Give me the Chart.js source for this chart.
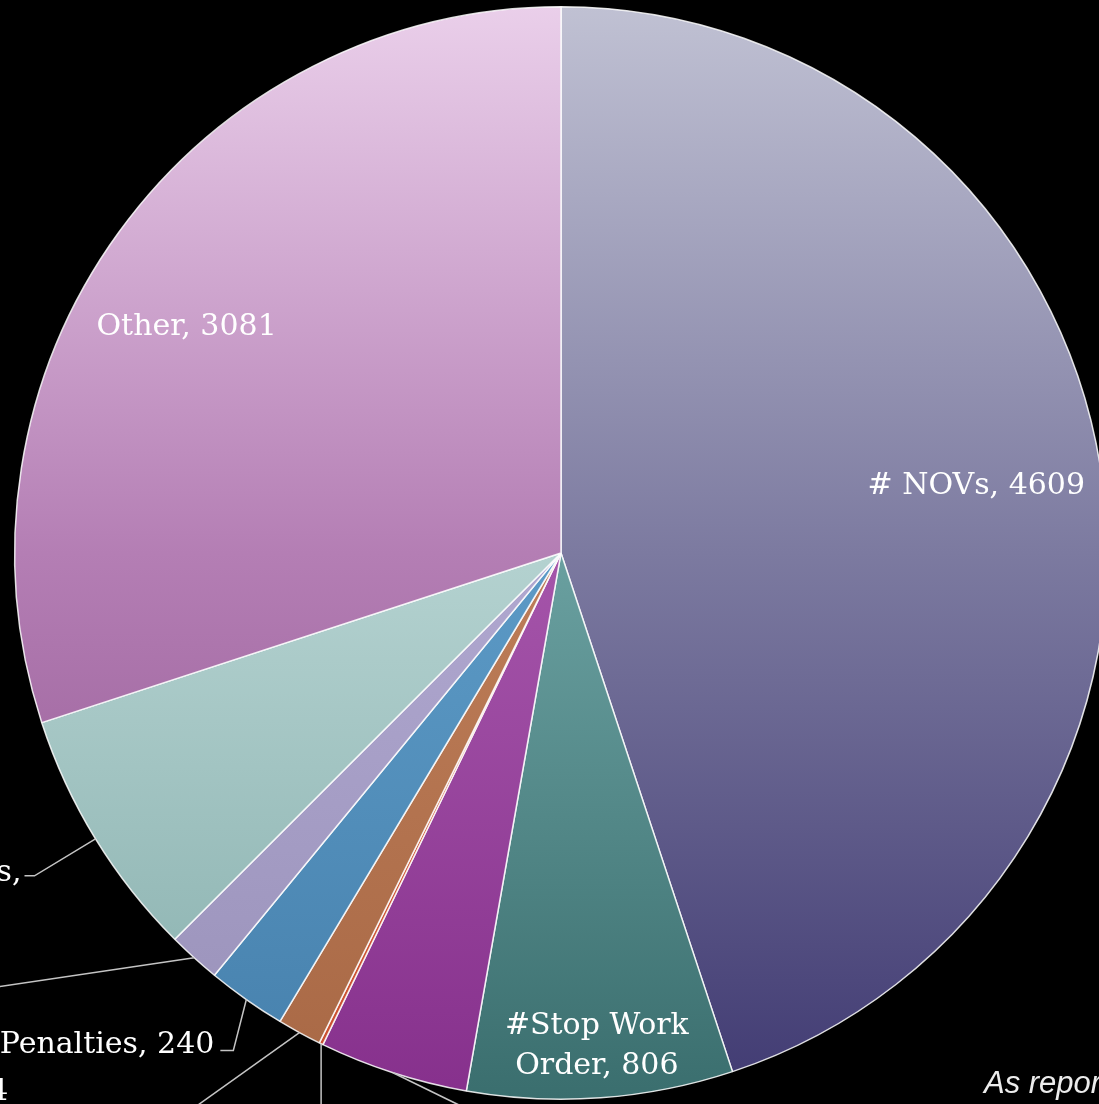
<!DOCTYPE html>
<html>
<head>
<meta charset="utf-8">
<script src="https://cdn.jsdelivr.net/npm/chart.js@4/dist/chart.umd.min.js"></script>
<style>
  html, body { margin: 0; padding: 0; background: #000; overflow: hidden; }
  #wrap { position: relative; width: 1099px; height: 1104px; overflow: hidden; background: #000; }
  #pie { position: absolute; left: 0; top: 0; }
</style>
</head>
<body>
<div id="wrap"><canvas id="pie" width="1200" height="1200"></canvas></div>
<script>
// Enforcement actions, counts per category (clockwise from 12 o'clock)
const categories = ['# NOVs', '#Stop Work Order', '# ECB Violations', '# Criminal Court',
                    '# Vacate Orders', 'Penalties', '# Summonses', '# Complaints', 'Other'];
const counts = [4609, 806, 452, 12, 134, 240, 160, 767, 3081];
const sourceNote = 'As reported by the Department of Buildings';

// Vertical gradient stops for each slice (top, middle, bottom of the pie)
const sliceStops = [
  ['#c0c1d3', '#7c7aa0', '#403a72'],
  ['#8fbcbc', '#6aa0a0', '#3a6e6e'],
  ['#c070c4', '#a555aa', '#86308c'],
  ['#e07050', '#d8603c', '#c85030'],
  ['#d09070', '#bd7d58', '#a86845'],
  ['#7ab0d8', '#5c9ac6', '#4680ac'],
  ['#c8c0e0', '#b0a8d0', '#9890b8'],
  ['#cfe4e4', '#b4d2d0', '#86aeac'],
  ['#eacfea', '#b47eb4', '#8a4e8a']
];

const LABEL_FONT = '30px "DejaVu Serif"';
const LINE_H = 40;

// Labels placed inside their slice: polar offset from the slice's mid angle
const insideLabels = [
  { index: 0, rFrac: 0.77, dAngle: 0 },
  { index: 1, rFrac: 0.905, dAngle: 0, wrapAfter: 'Work' },
  { index: 8, rFrac: 0.80, dAngle: -4.9 }
];

// Labels outside the pie: leader path and text box relative to the slice's outer mid point
const outsideLabels = [
  { index: 7, path: [[-61, 37], [-71, 37]], right: -74, base: 42, wrapAfter: ',' },
  { index: 6, path: [[-230, 34]], right: -236, base: 40 },
  { index: 5, path: [[-13, 51], [-26, 51]], right: -32, base: 53 },
  { index: 4, path: [[-150, 107]], right: -291, base: 67 },
  { index: 3, path: [[0, 120]], right: 60, base: 150 },
  { index: 2, path: [[90, 44]], right: 200, base: 70 }
];

function labelLines(i, wrapAfter) {
  const text = categories[i] + ', ' + counts[i];
  if (!wrapAfter) return [text];
  const cut = text.indexOf(wrapAfter) + wrapAfter.length;
  return [text.slice(0, cut).trim(), text.slice(cut).trim()];
}

function sliceFill(context) {
  const chart = context.chart;
  const area = chart.chartArea;
  const s = sliceStops[context.dataIndex];
  if (!area) return s[1];
  const g = chart.ctx.createLinearGradient(0, area.top, 0, area.bottom);
  g.addColorStop(0, s[0]);
  g.addColorStop(0.5, s[1]);
  g.addColorStop(1, s[2]);
  return g;
}

const sliceLabels = {
  id: 'sliceLabels',
  afterDatasetsDraw(chart) {
    const ctx = chart.ctx;
    const arcs = chart.getDatasetMeta(0).data;
    ctx.save();
    ctx.font = LABEL_FONT;
    ctx.fillStyle = '#ffffff';

    insideLabels.forEach(l => {
      const a = arcs[l.index];
      const mid = (a.startAngle + a.endAngle) / 2 + l.dAngle * Math.PI / 180;
      const r = a.outerRadius * l.rFrac;
      const x = a.x + Math.cos(mid) * r;
      const y = a.y + Math.sin(mid) * r;
      const lines = labelLines(l.index, l.wrapAfter);
      ctx.textAlign = 'center';
      ctx.textBaseline = 'middle';
      lines.forEach((t, k) => ctx.fillText(t, x, y + (k - (lines.length - 1) / 2) * LINE_H));
    });

    outsideLabels.forEach(l => {
      const a = arcs[l.index];
      const mid = (a.startAngle + a.endAngle) / 2;
      const ax = a.x + Math.cos(mid) * a.outerRadius;
      const ay = a.y + Math.sin(mid) * a.outerRadius;
      ctx.strokeStyle = '#c4c4c4';
      ctx.lineWidth = 1.5;
      ctx.beginPath();
      ctx.moveTo(ax, ay);
      l.path.forEach(p => ctx.lineTo(ax + p[0], ay + p[1]));
      ctx.stroke();
      const lines = labelLines(l.index, l.wrapAfter);
      const w = Math.max(...lines.map(t => ctx.measureText(t).width));
      const cx = ax + l.right - w / 2;
      ctx.textAlign = 'center';
      ctx.textBaseline = 'alphabetic';
      lines.forEach((t, k) => ctx.fillText(t, cx, ay + l.base + k * LINE_H));
    });

    ctx.font = 'italic 31px "Liberation Sans"';
    ctx.fillStyle = '#ececec';
    ctx.textAlign = 'left';
    ctx.textBaseline = 'alphabetic';
    ctx.fillText(sourceNote, 984, 1093);
    ctx.restore();
  }
};

new Chart(document.getElementById('pie'), {
  type: 'pie',
  data: {
    labels: categories,
    datasets: [{
      data: counts,
      backgroundColor: sliceFill,
      borderColor: 'rgba(255,255,255,0.85)',
      borderWidth: 1.5
    }]
  },
  options: {
    responsive: false,
    animation: false,
    devicePixelRatio: 1,
    layout: { padding: { left: 14, top: 6, right: 92, bottom: 100 } },
    plugins: { legend: { display: false }, tooltip: { enabled: false } }
  },
  plugins: [sliceLabels]
});
</script>
</body>
</html>
